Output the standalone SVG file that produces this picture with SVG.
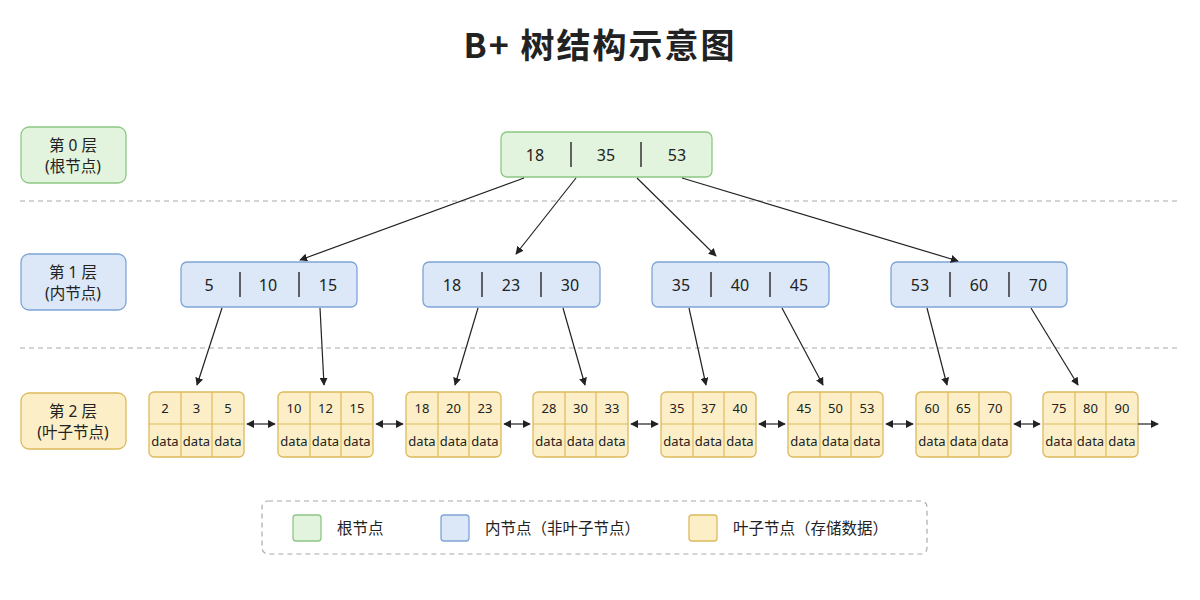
<svg xmlns="http://www.w3.org/2000/svg" width="1200" height="600" viewBox="0 0 1200 600">
<style>
text{font-family:"Noto Sans","Noto Sans CJK SC",sans-serif;fill:#222;text-anchor:middle;dominant-baseline:central}
.g{fill:#e2f3de;stroke:#8cc882;stroke-width:1.3}
.b{fill:#dce8f8;stroke:#7ea4d6;stroke-width:1.3}
.y{fill:#fcefc7;stroke:#ddb95a;stroke-width:1.3}
.sep{stroke:#333;stroke-width:1.5}
.ys{stroke:#ddb95a;stroke-width:1.2}
.k{font-size:16px}
.s{font-size:13px}
.lbl{font-size:15.5px}
.e{stroke:#222;stroke-width:1.2;fill:none;marker-end:url(#a)}
.d{stroke:#222;stroke-width:1.2;fill:none;marker-end:url(#a);marker-start:url(#as)}
.dash{stroke:#aaa;stroke-width:1.2;stroke-dasharray:5 4}
</style>
<defs>
<marker id="a" viewBox="0 0 10 10" refX="9" refY="5" markerWidth="8" markerHeight="8" markerUnits="userSpaceOnUse" orient="auto"><path d="M0,0L10,5L0,10z" fill="#222"/></marker>
<marker id="as" viewBox="0 0 10 10" refX="1" refY="5" markerWidth="8" markerHeight="8" markerUnits="userSpaceOnUse" orient="auto"><path d="M10,0L0,5L10,10z" fill="#222"/></marker>
</defs>
<rect width="1200" height="600" fill="#fff"/>
<text x="600" y="43" style="font-size:34px;font-weight:bold;font-family:'Noto Sans CJK SC',sans-serif;letter-spacing:2px">B+ 树结构示意图</text>
<line class="dash" x1="20" y1="201" x2="1180" y2="201"/>
<line class="dash" x1="20" y1="348" x2="1180" y2="348"/>
<g id="level0"><rect class="g" x="21" y="127" width="105" height="56" rx="8"/><text class="lbl" x="73" y="145">第 0 层</text><text class="lbl" x="73" y="166">(根节点)</text></g>
<g id="level1"><rect class="b" x="21" y="254" width="105" height="56" rx="8"/><text class="lbl" x="73" y="272">第 1 层</text><text class="lbl" x="73" y="293">(内节点)</text></g>
<g id="level2"><rect class="y" x="21" y="393" width="105" height="56" rx="8"/><text class="lbl" x="73" y="411">第 2 层</text><text class="lbl" x="73" y="432">(叶子节点)</text></g>
<g id="root"><rect class="g" x="501" y="132" width="211" height="45" rx="6"/><line class="sep" x1="571" y1="142" x2="571" y2="167"/><line class="sep" x1="641" y1="142" x2="641" y2="167"/><text class="k" x="535" y="155">18</text><text class="k" x="606" y="155">35</text><text class="k" x="677" y="155">53</text></g>
<g id="i1"><rect class="b" x="181" y="262" width="176" height="45" rx="6"/><line class="sep" x1="240" y1="272" x2="240" y2="297"/><line class="sep" x1="299" y1="272" x2="299" y2="297"/><text class="k" x="209" y="285">5</text><text class="k" x="268" y="285">10</text><text class="k" x="328" y="285">15</text></g>
<g id="i2"><rect class="b" x="423" y="262" width="177" height="45" rx="6"/><line class="sep" x1="482" y1="272" x2="482" y2="297"/><line class="sep" x1="541" y1="272" x2="541" y2="297"/><text class="k" x="452" y="285">18</text><text class="k" x="511" y="285">23</text><text class="k" x="570" y="285">30</text></g>
<g id="i3"><rect class="b" x="652" y="262" width="177" height="45" rx="6"/><line class="sep" x1="711" y1="272" x2="711" y2="297"/><line class="sep" x1="770" y1="272" x2="770" y2="297"/><text class="k" x="681" y="285">35</text><text class="k" x="740" y="285">40</text><text class="k" x="799" y="285">45</text></g>
<g id="i4"><rect class="b" x="891" y="262" width="176" height="45" rx="6"/><line class="sep" x1="950" y1="272" x2="950" y2="297"/><line class="sep" x1="1009" y1="272" x2="1009" y2="297"/><text class="k" x="920" y="285">53</text><text class="k" x="979" y="285">60</text><text class="k" x="1038" y="285">70</text></g>
<g id="leaves">
<g id="l1" transform="translate(149,392)"><rect class="y" width="95" height="65" rx="5"/><line class="ys" x1="0" y1="32" x2="95" y2="32"/><line class="ys" x1="32" y1="0" x2="32" y2="65"/><line class="ys" x1="63" y1="0" x2="63" y2="65"/><text class="s" x="16" y="16">2</text><text class="s" x="47.5" y="16">3</text><text class="s" x="79" y="16">5</text><text class="s" x="16" y="49">data</text><text class="s" x="47.5" y="49">data</text><text class="s" x="79" y="49">data</text></g>
<g id="l2" transform="translate(278,392)"><rect class="y" width="95" height="65" rx="5"/><line class="ys" x1="0" y1="32" x2="95" y2="32"/><line class="ys" x1="32" y1="0" x2="32" y2="65"/><line class="ys" x1="63" y1="0" x2="63" y2="65"/><text class="s" x="16" y="16">10</text><text class="s" x="47.5" y="16">12</text><text class="s" x="79" y="16">15</text><text class="s" x="16" y="49">data</text><text class="s" x="47.5" y="49">data</text><text class="s" x="79" y="49">data</text></g>
<g id="l3" transform="translate(406,392)"><rect class="y" width="95" height="65" rx="5"/><line class="ys" x1="0" y1="32" x2="95" y2="32"/><line class="ys" x1="32" y1="0" x2="32" y2="65"/><line class="ys" x1="63" y1="0" x2="63" y2="65"/><text class="s" x="16" y="16">18</text><text class="s" x="47.5" y="16">20</text><text class="s" x="79" y="16">23</text><text class="s" x="16" y="49">data</text><text class="s" x="47.5" y="49">data</text><text class="s" x="79" y="49">data</text></g>
<g id="l4" transform="translate(533,392)"><rect class="y" width="95" height="65" rx="5"/><line class="ys" x1="0" y1="32" x2="95" y2="32"/><line class="ys" x1="32" y1="0" x2="32" y2="65"/><line class="ys" x1="63" y1="0" x2="63" y2="65"/><text class="s" x="16" y="16">28</text><text class="s" x="47.5" y="16">30</text><text class="s" x="79" y="16">33</text><text class="s" x="16" y="49">data</text><text class="s" x="47.5" y="49">data</text><text class="s" x="79" y="49">data</text></g>
<g id="l5" transform="translate(661,392)"><rect class="y" width="95" height="65" rx="5"/><line class="ys" x1="0" y1="32" x2="95" y2="32"/><line class="ys" x1="32" y1="0" x2="32" y2="65"/><line class="ys" x1="63" y1="0" x2="63" y2="65"/><text class="s" x="16" y="16">35</text><text class="s" x="47.5" y="16">37</text><text class="s" x="79" y="16">40</text><text class="s" x="16" y="49">data</text><text class="s" x="47.5" y="49">data</text><text class="s" x="79" y="49">data</text></g>
<g id="l6" transform="translate(788,392)"><rect class="y" width="95" height="65" rx="5"/><line class="ys" x1="0" y1="32" x2="95" y2="32"/><line class="ys" x1="32" y1="0" x2="32" y2="65"/><line class="ys" x1="63" y1="0" x2="63" y2="65"/><text class="s" x="16" y="16">45</text><text class="s" x="47.5" y="16">50</text><text class="s" x="79" y="16">53</text><text class="s" x="16" y="49">data</text><text class="s" x="47.5" y="49">data</text><text class="s" x="79" y="49">data</text></g>
<g id="l7" transform="translate(916,392)"><rect class="y" width="95" height="65" rx="5"/><line class="ys" x1="0" y1="32" x2="95" y2="32"/><line class="ys" x1="32" y1="0" x2="32" y2="65"/><line class="ys" x1="63" y1="0" x2="63" y2="65"/><text class="s" x="16" y="16">60</text><text class="s" x="47.5" y="16">65</text><text class="s" x="79" y="16">70</text><text class="s" x="16" y="49">data</text><text class="s" x="47.5" y="49">data</text><text class="s" x="79" y="49">data</text></g>
<g id="l8" transform="translate(1043,392)"><rect class="y" width="95" height="65" rx="5"/><line class="ys" x1="0" y1="32" x2="95" y2="32"/><line class="ys" x1="32" y1="0" x2="32" y2="65"/><line class="ys" x1="63" y1="0" x2="63" y2="65"/><text class="s" x="16" y="16">75</text><text class="s" x="47.5" y="16">80</text><text class="s" x="79" y="16">90</text><text class="s" x="16" y="49">data</text><text class="s" x="47.5" y="49">data</text><text class="s" x="79" y="49">data</text></g>
</g>
<g id="connectors">
<line class="e" x1="524" y1="178" x2="300" y2="260"/>
<line class="e" x1="576" y1="178" x2="516" y2="254"/>
<line class="e" x1="637" y1="178" x2="716" y2="256"/>
<line class="e" x1="682" y1="178" x2="958" y2="261"/>
<line class="e" x1="222" y1="308" x2="197" y2="385"/>
<line class="e" x1="320" y1="308" x2="324" y2="385"/>
<line class="e" x1="478" y1="308" x2="455" y2="385"/>
<line class="e" x1="563" y1="308" x2="585" y2="385"/>
<line class="e" x1="689" y1="308" x2="706" y2="385"/>
<line class="e" x1="782" y1="308" x2="823" y2="385"/>
<line class="e" x1="927" y1="308" x2="947" y2="385"/>
<line class="e" x1="1031" y1="308" x2="1078" y2="385"/>
<line class="d" x1="247" y1="424" x2="275" y2="424"/>
<line class="d" x1="376" y1="424" x2="403" y2="424"/>
<line class="d" x1="504" y1="424" x2="530" y2="424"/>
<line class="d" x1="631" y1="424" x2="658" y2="424"/>
<line class="d" x1="759" y1="424" x2="785" y2="424"/>
<line class="d" x1="886" y1="424" x2="913" y2="424"/>
<line class="d" x1="1014" y1="424" x2="1040" y2="424"/>
<line class="e" x1="1138" y1="424" x2="1158" y2="424"/>
</g>
<g id="legend">
<rect x="262" y="501" width="665" height="53" rx="6" fill="none" stroke="#aaa" stroke-width="1.2" stroke-dasharray="5 4"/>
<rect class="g" x="293" y="515" width="28" height="26" rx="3"/><text class="lbl" x="337" y="528" style="text-anchor:start">根节点</text>
<rect class="b" x="441" y="515" width="28" height="26" rx="3"/><text class="lbl" x="485" y="528" style="text-anchor:start">内节点（非叶子节点）</text>
<rect class="y" x="689" y="515" width="28" height="26" rx="3"/><text class="lbl" x="733" y="528" style="text-anchor:start">叶子节点（存储数据）</text>
</g>
</svg>
